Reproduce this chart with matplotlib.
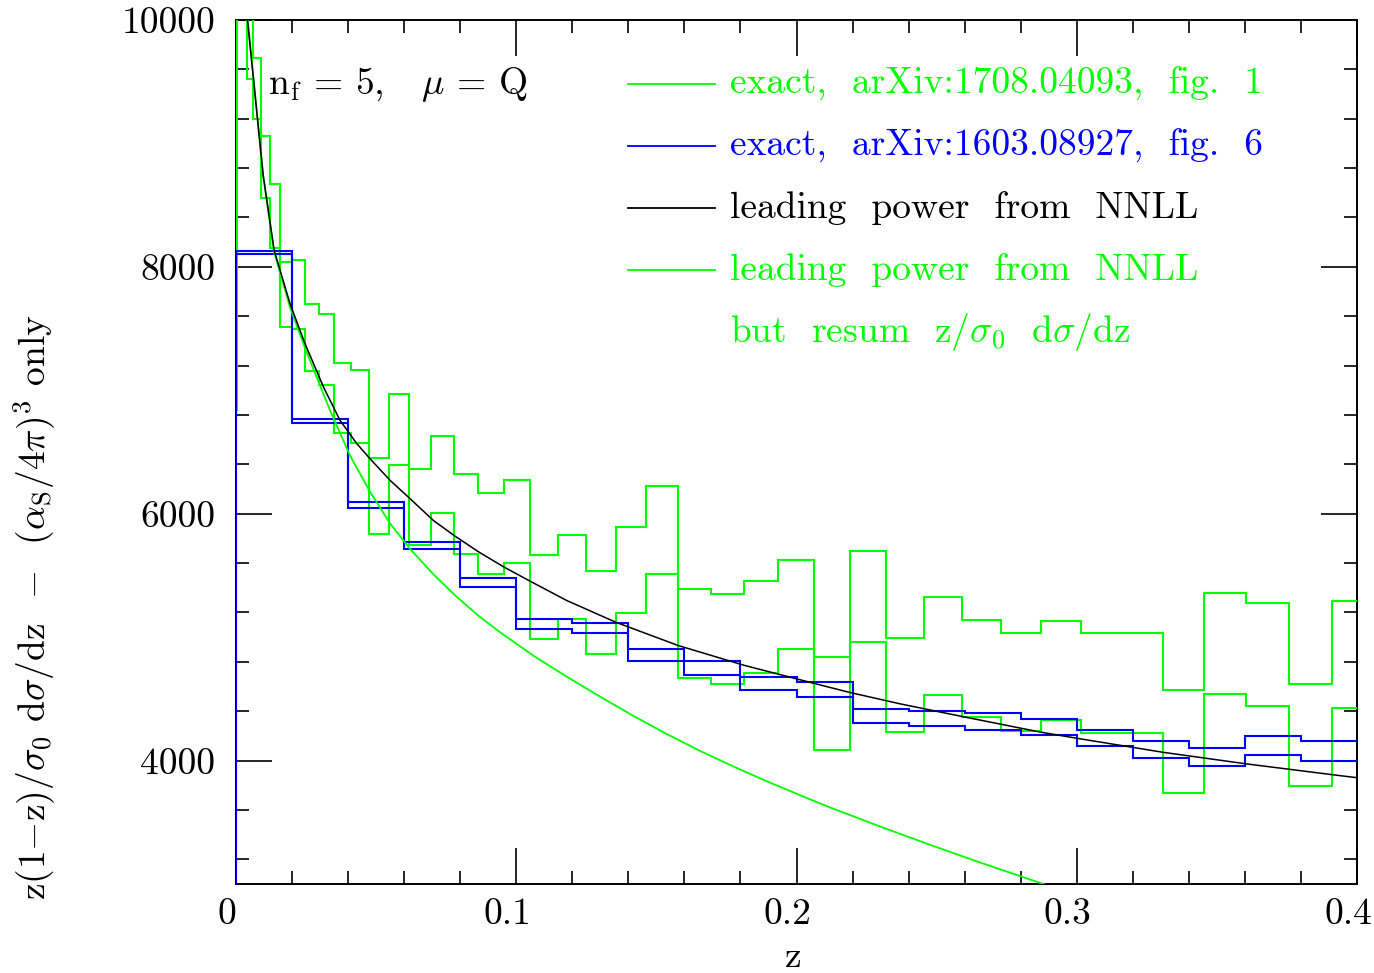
import numpy as np
import matplotlib
matplotlib.use('Agg')
import matplotlib.pyplot as plt
from matplotlib.ticker import MultipleLocator, FixedLocator, FixedFormatter
from matplotlib.transforms import ScaledTranslation

plt.rcParams['font.family'] = ['cmr10', 'DejaVu Serif']
plt.rcParams['mathtext.fontset'] = 'cm'
plt.rcParams['axes.formatter.use_mathtext'] = True
plt.rcParams['axes.unicode_minus'] = False

# ---------------- data ----------------
# exact, arXiv:1708.04093 (two histograms, bins)
green_edges = [0.0, 0.000247, 0.000987, 0.00222, 0.00394, 0.00616, 0.00886, 0.01204,
               0.01571, 0.01985, 0.02447, 0.02956, 0.03511, 0.04112, 0.04759, 0.05450,
               0.06185, 0.06963, 0.07784, 0.08646, 0.09549, 0.10492, 0.11474, 0.12494,
               0.13552, 0.14645, 0.15773, 0.16934, 0.18129, 0.19355, 0.20611, 0.21896,
               0.23209, 0.24548, 0.25912, 0.27300, 0.28711, 0.30142, 0.31593, 0.33064,
               0.34549, 0.36050, 0.37566, 0.39093, 0.40631]
green_hist_a = [10800, 12000, 11500, 11000, 10400, 9694, 9062, 8668, 8040, 8054,
                7703, 7616, 7221, 7162, 6451, 6968, 6365, 6627, 6325, 6171,
                6270, 5662, 5824, 5538, 5889, 6227, 5392, 5346, 5451, 5627,
                4089, 5697, 4995, 5322, 5142, 5036, 5128, 5035, 5035, 4568,
                5360, 5279, 4624, 5289]
green_hist_b = [6840, 12500, 11800, 10900, 9519, 9195, 8554, 8149, 7510, 7500,
                7154, 7041, 6657, 6576, 5838, 6392, 5749, 6008, 5676, 5508,
                5603, 4987, 5149, 4865, 5195, 5508, 4665, 4624, 4711, 4900,
                4843, 4957, 4228, 4535, 4351, 4243, 4331, 4225, 4225, 3741,
                4543, 4446, 3792, 4427]

# exact, arXiv:1603.08927 (two histograms)
blue_edges = [0.00, 0.02, 0.04, 0.06, 0.08, 0.10, 0.12, 0.14, 0.16, 0.18, 0.20,
              0.22, 0.24, 0.26, 0.28, 0.30, 0.32, 0.34, 0.36, 0.38, 0.40]
blue_hist_a = [8130, 6770, 6097, 5772, 5480, 5149, 5117, 4900, 4805, 4681,
               4635, 4419, 4404, 4388, 4340, 4249, 4162, 4105, 4200, 4157]
blue_hist_b = [8107, 6733, 6043, 5716, 5408, 5062, 5030, 4803, 4697, 4568,
               4519, 4303, 4284, 4251, 4204, 4115, 4019, 3960, 4049, 4000]

# leading power from NNLL
lp_z = [0.0041, 0.0097, 0.0136, 0.0193, 0.0246, 0.0312, 0.0371, 0.0431, 0.0478,
        0.0550, 0.0621, 0.0704, 0.0781, 0.0867, 0.0957, 0.1049, 0.1180, 0.1355,
        0.1578, 0.1816, 0.2060, 0.2188, 0.2369, 0.2591, 0.2872, 0.3013, 0.3308,
        0.3606, 0.3907, 0.4004]
lp_v = [10000, 8743, 8135, 7700, 7379, 7027, 6757, 6568, 6446, 6270, 6122, 5946,
        5819, 5689, 5567, 5454, 5297, 5121, 4932, 4770, 4627, 4553, 4460, 4357,
        4230, 4176, 4067, 3973, 3887, 3860]

# leading power from NNLL but resum z/sigma0 dsigma/dz
rs_z = [0.0042, 0.0097, 0.0136, 0.0193, 0.0252, 0.0335, 0.0407, 0.0478, 0.0550,
        0.0621, 0.0704, 0.0781, 0.0867, 0.0942, 0.1061, 0.1180, 0.1299, 0.1418,
        0.1537, 0.1656, 0.1775, 0.1894, 0.2048, 0.2120, 0.2298, 0.2476, 0.2655,
        0.2894]
rs_v = [10000, 8735, 8120, 7670, 7310, 6840, 6470, 6180, 5920, 5715, 5510, 5340,
        5170, 5040, 4850, 4680, 4518, 4362, 4215, 4078, 3952, 3832, 3686, 3620,
        3466, 3318, 3174, 2990]

x_ticks = [0.0, 0.1, 0.2, 0.3, 0.4]
x_ticklabels = ['0', '0.1', '0.2', '0.3', '0.4']
y_ticks = [4000, 6000, 8000, 10000]
y_ticklabels = ['4000', '6000', '8000', '10000']

GREEN = '#00ff00'
BLUE = '#0000ff'

# ---------------- figure ----------------
W, H = 1374, 973
fig = plt.figure(figsize=(W / 100, H / 100), dpi=100)
ax = fig.add_axes([236 / W, 1 - 884 / H, (1357 - 236) / W, (884 - 20) / H])

lw = 1.5
for vals in (green_hist_a, green_hist_b):
    ax.stairs(vals, green_edges, baseline=None, color=GREEN, lw=lw, zorder=3)
for vals in (blue_hist_a, blue_hist_b):
    ax.stairs(vals, blue_edges, baseline=None, color=BLUE, lw=lw, zorder=3.2)
    ax.vlines(blue_edges[0], 0, vals[0], color=BLUE, lw=lw, zorder=3.2)
ax.plot(lp_z, lp_v, color='black', lw=1.1, zorder=3.4)
ax.plot(rs_z, rs_v, color=GREEN, lw=1.3, zorder=3.3)

ax.set_xlim(0, 0.4)
ax.set_ylim(3000, 10000)

ax.xaxis.set_major_locator(FixedLocator(x_ticks))
ax.xaxis.set_major_formatter(FixedFormatter(x_ticklabels))
ax.xaxis.set_minor_locator(MultipleLocator(0.02))
ax.yaxis.set_major_locator(FixedLocator(y_ticks))
ax.yaxis.set_major_formatter(FixedFormatter(y_ticklabels))
ax.yaxis.set_minor_locator(MultipleLocator(400))

ax.tick_params(which='both', direction='in', top=True, right=True, width=1.2,
               labelsize=27)
ax.tick_params(which='major', length=26)
ax.tick_params(which='minor', length=9.5)
ax.tick_params(axis='x', which='major', pad=10)
ax.tick_params(axis='y', which='major', pad=15)
for s in ax.spines.values():
    s.set_linewidth(1.4)

shift = ScaledTranslation(-9 / 100, 0, fig.dpi_scale_trans)
for lab in ax.get_xticklabels():
    lab.set_transform(lab.get_transform() + shift)

fig.text(793 / W, 1 - 957 / H, 'z', ha='center', va='center', fontsize=27)
fig.text(35 / W, 1 - 607 / H,
         r'z(1$-$z)/$\sigma_0$ d$\sigma$/dz  $-$  ($\alpha_\mathrm{S}$/4$\pi$)$^3$ only',
         rotation=90, ha='center', va='center', fontsize=27)

# annotation and key
tr = ax.transAxes
def fx(px):
    return (px - 236) / (1357 - 236)
def fy(py):
    return (884 - py) / (884 - 20)

ax.text(fx(268), fy(85), r'n$_\mathrm{f}$ = 5,   $\mu$ = Q', transform=tr,
        ha='left', va='center', fontsize=27)

key = [('exact,  arXiv:1708.04093,  fig.  1', GREEN, True),
       ('exact,  arXiv:1603.08927,  fig.  6', BLUE, True),
       ('leading  power  from  NNLL', 'black', True),
       ('leading  power  from  NNLL', GREEN, True),
       (r'but  resum  z/$\sigma_0$  d$\sigma$/dz', GREEN, False)]
for i, (label, col, has_line) in enumerate(key):
    yy = fy(84 + 62 * i)
    if has_line:
        ax.plot([fx(628), fx(715)], [yy, yy], transform=tr, color=col, lw=1.3,
                clip_on=False)
    ax.text(fx(730), yy, label, transform=tr, ha='left', va='center',
            fontsize=27, color=col)

fig.savefig('out.png', dpi=100)
